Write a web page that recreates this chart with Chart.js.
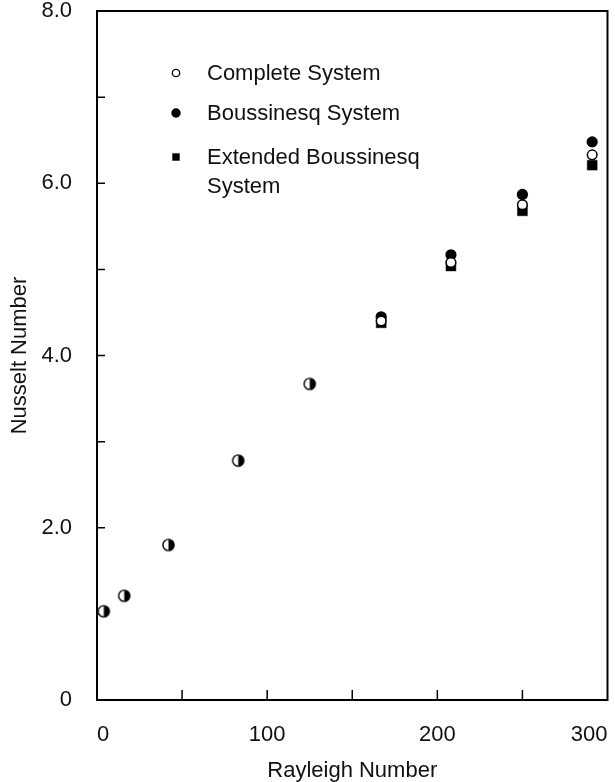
<!DOCTYPE html>
<html lang="en">
<head>
<meta charset="UTF-8">
<title>Nusselt Number vs Rayleigh Number</title>
<style>
    html, body {
        margin: 0;
        padding: 0;
        background-color: #ffffff;
    }
    #wrap {
        width: 615px;
        height: 782px;
    }
</style>
</head>
<body>
<div id="wrap"><canvas id="myChart" width="615" height="782"></canvas></div>
<script src="https://cdn.jsdelivr.net/npm/chart.js"></script>
<script>
// points where the three systems coincide (drawn as half-filled circles)
const raShared = [4, 16, 42, 83, 125];
const nuShared = [1.03, 1.21, 1.80, 2.78, 3.67];

// points where the systems separate
const raSplit = [167, 208, 250, 291];
const nuComplete = [4.40, 5.08, 5.75, 6.33];
const nuBoussinesq = [4.45, 5.17, 5.87, 6.48];
const nuExtended = [4.38, 5.04, 5.68, 6.21];

const seriesLabels = ['Complete System', 'Boussinesq System', ['Extended Boussinesq', 'System']];
const xTickLabels = [0, 100, 200, 300];
const yTickLabels = [0, 2, 4, 6, 8];

const ink = '#111111';
const font = { family: '"Liberation Sans", Arial, sans-serif', size: 22 };

function pts(xs, ys) {
    return xs.map((x, i) => ({ x: x, y: ys[i] }));
}

// half open / half filled circle used where all systems agree
function halfMarker(r) {
    const c = document.createElement('canvas');
    const s = Math.ceil(r * 2 + 3);
    c.width = s;
    c.height = s;
    const g = c.getContext('2d');
    const m = s / 2;
    g.fillStyle = '#fff';
    g.beginPath(); g.arc(m, m, r, 0, Math.PI * 2); g.fill();
    g.fillStyle = '#000';
    g.beginPath(); g.arc(m, m, r, -Math.PI / 2, Math.PI / 2); g.closePath(); g.fill();
    g.lineWidth = 1.4;
    g.strokeStyle = '#000';
    g.beginPath(); g.arc(m, m, r, 0, Math.PI * 2); g.stroke();
    return c;
}

const framePlugin = {
    id: 'frame',
    beforeDatasetsDraw(chart) {
        const { ctx, chartArea: a, scales } = chart;
        ctx.save();
        ctx.strokeStyle = '#000';
        ctx.lineWidth = 2;
        ctx.strokeRect(a.left, a.top, a.right - a.left, a.bottom - a.top);
        ctx.lineWidth = 1.5;
        ctx.beginPath();
        scales.x.ticks.forEach(t => {
            if (t.value <= scales.x.min || t.value >= scales.x.max) return;
            const px = scales.x.getPixelForValue(t.value);
            ctx.moveTo(px, a.bottom);
            ctx.lineTo(px, a.bottom - 10);
        });
        scales.y.ticks.forEach(t => {
            if (t.value <= scales.y.min || t.value >= scales.y.max) return;
            const py = scales.y.getPixelForValue(t.value);
            ctx.moveTo(a.left, py);
            ctx.lineTo(a.left + 8, py);
        });
        ctx.stroke();
        ctx.restore();
    },
    afterDraw(chart) {
        const { ctx, chartArea: a } = chart;
        const mx = a.left + 79;
        const tx = a.left + 110;
        const rows = [a.top + 62, a.top + 102, a.top + 146];
        ctx.save();
        ctx.font = font.size + 'px ' + font.family;
        ctx.fillStyle = ink;
        ctx.textBaseline = 'alphabetic';
        chart.data.datasets.slice(0, 3).forEach((ds, i) => {
            const y = rows[i];
            ctx.fillStyle = '#000';
            ctx.strokeStyle = '#000';
            if (i === 0) {
                ctx.fillStyle = '#fff';
                ctx.lineWidth = 1.3;
                ctx.beginPath(); ctx.arc(mx, y, 3.7, 0, Math.PI * 2); ctx.fill(); ctx.stroke();
            } else if (i === 1) {
                ctx.beginPath(); ctx.arc(mx, y, 4.7, 0, Math.PI * 2); ctx.fill();
            } else {
                ctx.fillRect(mx - 3.7, y - 3.7, 7.4, 7.4);
            }
            ctx.fillStyle = ink;
            const lines = Array.isArray(ds.label) ? ds.label : [ds.label];
            lines.forEach((line, j) => {
                ctx.fillText(line, tx, y + 7 + j * 29);
            });
        });
        ctx.restore();
    }
};

const ctx = document.getElementById('myChart').getContext('2d');
const myChart = new Chart(ctx, {
    type: 'scatter',
    data: {
        datasets: [
            {
                label: seriesLabels[0],
                data: pts(raSplit, nuComplete),
                pointStyle: 'circle',
                pointRadius: 4.8,
                pointBackgroundColor: '#fff',
                pointBorderColor: '#000',
                pointBorderWidth: 1.5
            },
            {
                label: seriesLabels[1],
                data: pts(raSplit, nuBoussinesq),
                pointStyle: 'circle',
                pointRadius: 5.6,
                pointBackgroundColor: '#000',
                pointBorderColor: '#000',
                pointBorderWidth: 0
            },
            {
                label: seriesLabels[2],
                data: pts(raSplit, nuExtended),
                pointStyle: 'rect',
                pointRadius: 7,
                pointBackgroundColor: '#000',
                pointBorderColor: '#000',
                pointBorderWidth: 0.5
            },
            {
                label: 'shared',
                data: pts(raShared, nuShared),
                pointStyle: halfMarker(5.6),
                pointRadius: 6
            }
        ]
    },
    options: {
        responsive: false,
        animation: false,
        events: [],
        layout: { padding: { top: 11, right: 6, left: 0, bottom: 0 } },
        plugins: {
            legend: { display: false },
            tooltip: { enabled: false }
        },
        scales: {
            x: {
                type: 'linear',
                min: 0,
                max: 300,
                grid: { display: false },
                border: { display: false },
                ticks: {
                    stepSize: 50,
                    align: 'inner',
                    padding: 14,
                    color: ink,
                    font: font,
                    callback: v => xTickLabels.includes(v) ? String(v) : ''
                },
                title: {
                    display: true,
                    text: 'Rayleigh Number',
                    color: ink,
                    font: { family: font.family, size: 22, lineHeight: 1 },
                    padding: { top: 0, bottom: 0 }
                },
                afterFit(scale) {
                    scale.height = 82;
                    scale.paddingLeft = 0;
                    scale.paddingRight = 0;
                }
            },
            y: {
                type: 'linear',
                min: 0,
                max: 8,
                grid: { display: false },
                border: { display: false },
                ticks: {
                    stepSize: 1,
                    padding: 17,
                    color: ink,
                    font: { family: font.family, size: 22, lineHeight: 1 },
                    callback: v => yTickLabels.includes(v) ? (v === 0 ? '0' : v.toFixed(1)) : ''
                },
                title: {
                    display: true,
                    text: 'Nusselt Number',
                    color: ink,
                    font: { family: font.family, size: 22, lineHeight: 1 },
                    padding: { top: 8.5, bottom: 0 }
                },
                afterFit(scale) {
                    scale.width = 97;
                    scale.paddingTop = 0;
                    scale.paddingBottom = 0;
                }
            }
        }
    },
    plugins: [framePlugin]
});
</script>
</body>
</html>
